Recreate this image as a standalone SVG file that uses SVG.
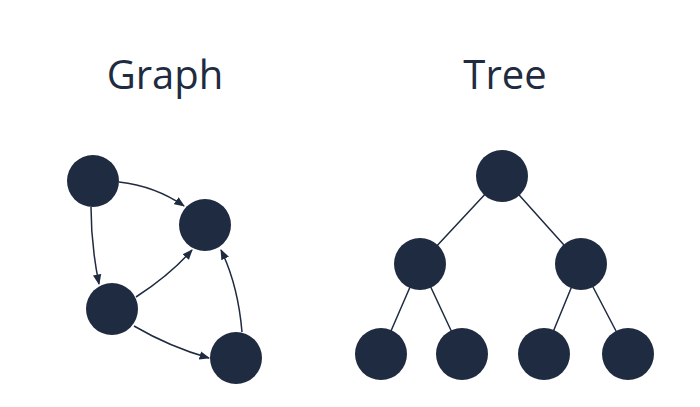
<svg xmlns="http://www.w3.org/2000/svg" width="700" height="407" viewBox="0 0 700 407">
<style>
.n{fill:#1f2b40}
.t{font-family:"Open Sans","Liberation Sans",sans-serif;font-size:40px;fill:#1f2b40;text-anchor:middle}
.e{fill:none;stroke:#1f2b40;stroke-width:1.5}
</style>
<defs><marker id="ah" viewBox="0 0 10 10" refX="9" refY="5" markerWidth="7" markerHeight="7" orient="auto"><path d="M0,1 L10,5 L0,9 Z" fill="#1f2b40"/></marker></defs>
<rect width="700" height="407" fill="#fff"/>
<text class="t" x="165" y="89">Graph</text>
<text class="t" x="505" y="89">Tree</text>
<g id="connectors">
<path class="e" marker-end="url(#ah)" d="M119,182 Q155,186 184,206"/>
<path class="e" marker-end="url(#ah)" d="M91,207 Q91,245 99,284"/>
<path class="e" marker-end="url(#ah)" d="M136,297 Q170,275 192,250"/>
<path class="e" marker-end="url(#ah)" d="M134,326 Q170,347 209,358"/>
<path class="e" marker-end="url(#ah)" d="M242,332 Q238,285 221,250"/>
<path class="e" d="M502,176 L420,264 M502,176 L581,264 M420,264 L381,354 M420,264 L462,354 M581,264 L544,354 M581,264 L628,354"/>
</g>
<g id="gA"><circle class="n" cx="93" cy="181" r="26"/></g>
<g id="gB"><circle class="n" cx="205" cy="225" r="26"/></g>
<g id="gC"><circle class="n" cx="112" cy="309" r="26"/></g>
<g id="gD"><circle class="n" cx="236" cy="358" r="26"/></g>
<g id="t1"><circle class="n" cx="502" cy="176" r="26"/></g>
<g id="t2"><circle class="n" cx="420" cy="264" r="26"/></g>
<g id="t3"><circle class="n" cx="581" cy="264" r="26"/></g>
<g id="t4"><circle class="n" cx="381" cy="354" r="26"/></g>
<g id="t5"><circle class="n" cx="462" cy="354" r="26"/></g>
<g id="t6"><circle class="n" cx="544" cy="354" r="26"/></g>
<g id="t7"><circle class="n" cx="628" cy="354" r="26"/></g>
</svg>
